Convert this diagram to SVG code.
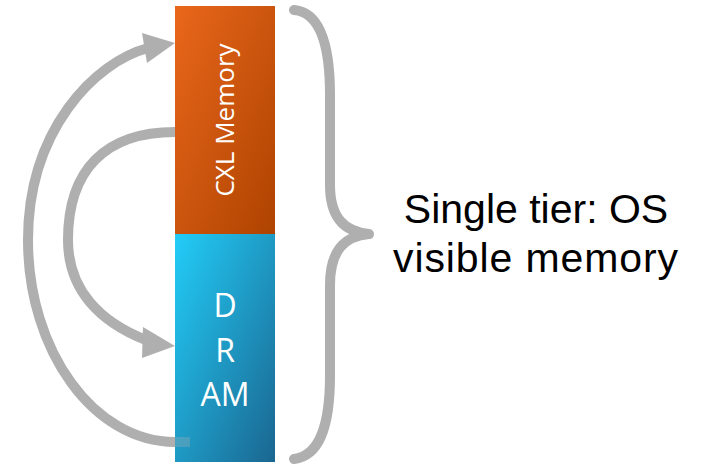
<svg xmlns="http://www.w3.org/2000/svg" width="713" height="466" viewBox="0 0 713 466">
<defs>
<linearGradient id="gOrange" x1="0" y1="0" x2="1" y2="1">
<stop offset="0" stop-color="#E9671B"/>
<stop offset="1" stop-color="#AE4300"/>
</linearGradient>
<linearGradient id="gBlue" x1="0" y1="0" x2="1" y2="1">
<stop offset="0" stop-color="#22CDF8"/>
<stop offset="1" stop-color="#1A6690"/>
</linearGradient>
<style>
.arrow{fill:none;stroke:#AFAFAF;stroke-width:10}
.head{fill:#AFAFAF}
.brace{fill:none;stroke:#AFAFAF;stroke-width:10;stroke-linecap:round;stroke-linejoin:round}
.lbl{font-family:"Open Sans","Liberation Sans",sans-serif;fill:#FFFFFF;text-anchor:middle}
.side{font-family:"Liberation Sans",Arial,sans-serif;fill:#000000;text-anchor:middle;font-size:41px}
</style>
</defs>
<g id="connectors">
<path class="arrow" d="M 190 442 L 175 442 C 94 442 28 351 28 240 C 28 130 95 62 148 48"/>
<polygon class="head" points="175,43 142,33 147,63"/>
<path class="arrow" d="M 175 132 C 105 132 68 170 68 240 C 68 290 100 322 146 340"/>
<polygon class="head" points="175,346 143,327 142,358"/>
</g>
<g id="cxl">
<rect x="175" y="6" width="100" height="228" fill="url(#gOrange)"/>
<text class="lbl" font-size="26" transform="translate(234,120) rotate(-90)">CXL Memory</text>
</g>
<g id="dram">
<rect x="175" y="234" width="100" height="228" fill="url(#gBlue)"/>
<rect x="175" y="437" width="15" height="10" fill="#AFAFAF" fill-opacity="0.3"/>
<text class="lbl" font-size="32"><tspan x="225" y="317">D</tspan><tspan x="225" y="362">R</tspan><tspan x="225" y="406">AM</tspan></text>
</g>
<g id="brace">
<path class="brace" d="M 294 10 C 318 12 330 40 330 95 L 330 185 C 330 218 345 232 369 234 C 345 236 330 250 330 285 L 330 375 C 330 430 318 456 294 459"/>
</g>
<g id="label">
<text class="side" x="536" y="223">Single tier: OS</text>
<text class="side" x="536" y="272" letter-spacing="0.9">visible memory</text>
</g>
</svg>
